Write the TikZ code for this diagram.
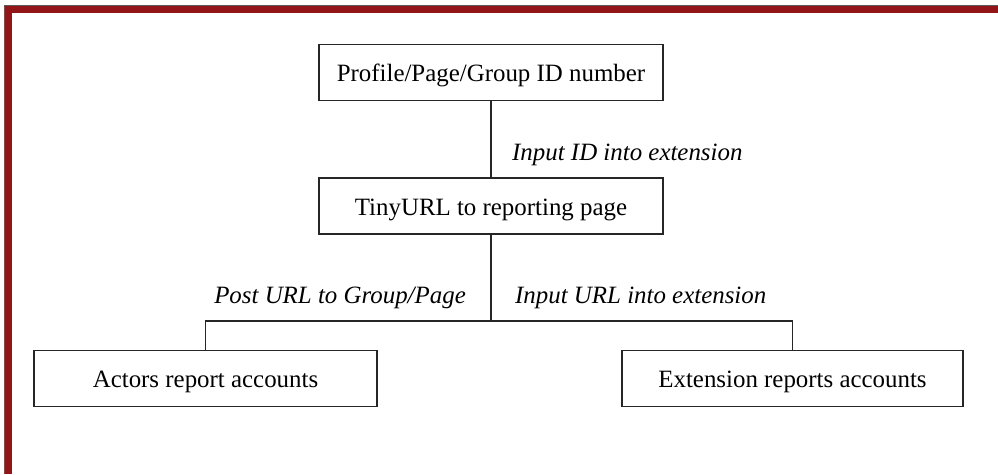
\documentclass[tikz,border=0pt]{standalone}
\usepackage{fontspec}
\setmainfont{Liberation Serif}
\definecolor{framered}{RGB}{146,22,24}
\definecolor{framegray}{RGB}{90,90,90}
\begin{document}
\begin{tikzpicture}[x=1pt,y=-1pt,
  box/.style={draw=black!85,line width=1.5pt,rectangle,minimum width=344pt,minimum height=56pt,inner sep=0pt,text height=23pt,text depth=5pt,font=\fontsize{24.9}{30}\selectfont},
  lbl/.style={inner sep=0pt,font=\fontsize{24.9}{30}\selectfont\itshape},
  conn/.style={draw=black!85,line width=1.5pt}]
\useasboundingbox (0,0) rectangle (998,474);
\fill[white] (0,0) rectangle (998,474);
% frame (top and left only visible)
\fill[framered] (5,6) rectangle (998,12.5);
\fill[framered] (5,6) rectangle (11.5,474);
\draw[framegray,line width=1.2pt] (4.6,474) -- (4.6,5.4) -- (998,5.4);
% nodes
\node[box] (top) at (491,72.5) {Profile/Page/Group ID number};
\node[box] (tiny) at (491,206) {TinyURL to reporting page};
\node[box,minimum width=343pt] (actors) at (205.5,378.5) {Actors report accounts};
\node[box,minimum width=341pt] (ext) at (792.5,378.5) {Extension reports accounts};
\coordinate (j) at (491,321);
% connectors
\draw[conn] (top.south) -- (tiny.north);
\draw[conn] (tiny.south) -- (j);
\draw[conn] (j) -| (actors.north);
\draw[conn] (j) -| (ext.north);
% labels
\node[lbl,anchor=west] (l1) at (512,155) {Input ID into extension};
\node[lbl,anchor=east] (l2) at (466,298) {Post URL to Group/Page};
\node[lbl,anchor=west] (l3) at (515,298) {Input URL into extension};
\end{tikzpicture}
\end{document}
